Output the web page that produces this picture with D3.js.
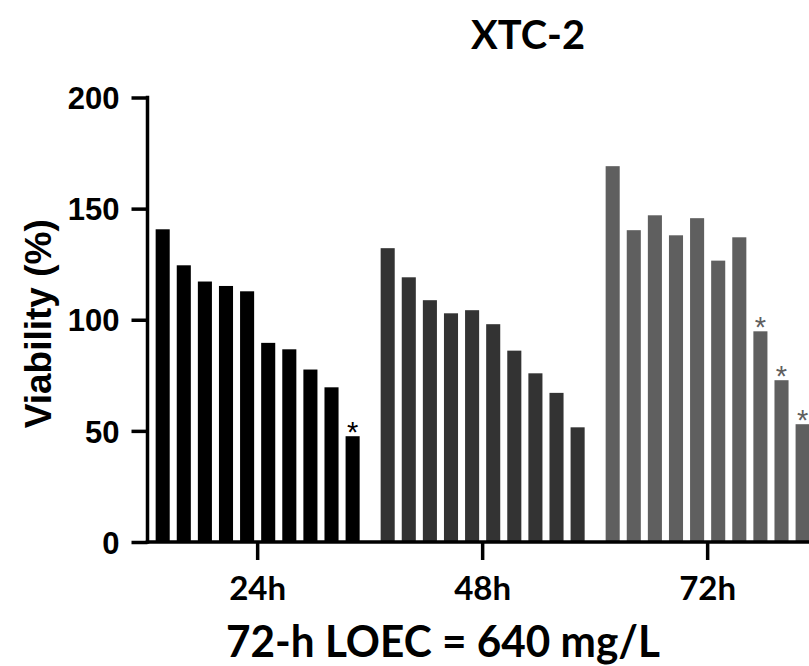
<!DOCTYPE html>
<html>
<head>
<meta charset="utf-8">
<script src="https://cdn.jsdelivr.net/npm/d3@7"></script>
<style>
  html, body { margin: 0; padding: 0; background: #fff; }
  svg { display: block; }
</style>
</head>
<body>
<svg id="chart" width="809" height="666"></svg>
<script>
// Exposure times (groups) and the ten concentration levels within each group
const timePoints = ["24h", "48h", "72h"];
const concLevels = ["C1", "C2", "C3", "C4", "C5", "C6", "C7", "C8", "C9", "C10"];

// Viability (%) per concentration level
const viability24 = [140.7, 124.5, 117.2, 115.2, 112.8, 89.6, 86.7, 77.6, 69.6, 47.6];
const viability48 = [132.2, 119.1, 108.8, 102.9, 104.3, 98.0, 86.1, 75.9, 67.1, 51.6];
const viability72 = [169.1, 140.3, 147.0, 138.0, 145.7, 126.6, 137.1, 94.8, 72.8, 53.0];

// Significance markers (1 = significant vs. control)
const signif24 = [0, 0, 0, 0, 0, 0, 0, 0, 0, 1];
const signif48 = [0, 0, 0, 0, 0, 0, 0, 0, 0, 0];
const signif72 = [0, 0, 0, 0, 0, 0, 0, 1, 1, 1];

const yTicks = [0, 50, 100, 150, 200];
const groupColors = ["#000000", "#333333", "#5f5f5f"];

const titleText = "XTC-2";
const yLabelText = "Viability (%)";
const noteText = "72-h LOEC = 640 mg/L";

const series = [viability24, viability48, viability72];
const signif = [signif24, signif48, signif72];

const rows = [];
timePoints.forEach((t, gi) => {
  concLevels.forEach((c, ci) => {
    rows.push({ time: t, conc: c, value: series[gi][ci], sig: signif[gi][ci], color: groupColors[gi] });
  });
});

const svg = d3.select("#chart");
const width = 809, height = 666;

const axisX = 147.5;
const y = d3.scaleLinear().domain([0, 200]).range([542, 97.5]);

const x0 = d3.scaleBand()
  .domain(timePoints)
  .range([axisX + 0.5, 817.3])
  .paddingInner(0.0933)
  .paddingOuter(0.034);

const x1 = d3.scaleBand()
  .domain(concLevels)
  .range([0, x0.bandwidth()])
  .paddingInner(1 / 3)
  .paddingOuter(0);

const calibriLike = "Lato, 'Open Sans', 'Noto Sans', sans-serif";
const arialLike = "'Liberation Sans', Arial, sans-serif";

// Bars
svg.append("g")
  .selectAll("rect")
  .data(rows)
  .join("rect")
  .attr("x", d => x0(d.time) + x1(d.conc))
  .attr("y", d => y(d.value))
  .attr("width", x1.bandwidth())
  .attr("height", d => y(0) - y(d.value))
  .attr("fill", d => d.color);

// Significance asterisks
svg.append("g")
  .selectAll("text")
  .data(rows.filter(d => d.sig))
  .join("text")
  .attr("x", d => x0(d.time) + x1(d.conc) + x1.bandwidth() / 2)
  .attr("y", d => y(d.value) + 6)
  .attr("text-anchor", "middle")
  .attr("font-family", arialLike)
  .attr("font-size", 29)
  .attr("fill", d => d.color)
  .text("*");

// Y axis
const yAxis = svg.append("g")
  .attr("transform", `translate(${axisX},0)`)
  .call(d3.axisLeft(y).tickValues(yTicks).tickSize(16).tickPadding(12).tickSizeOuter(0));
yAxis.select(".domain").attr("stroke", "#000").attr("stroke-width", 3.5)
  .attr("d", `M0,${y(200) - 1.75}V${y(0) + 1.75}`);
yAxis.selectAll(".tick line").attr("stroke", "#000").attr("stroke-width", 3.5);
yAxis.selectAll(".tick text")
  .attr("font-family", arialLike)
  .attr("font-weight", "bold")
  .attr("font-size", 31)
  .attr("fill", "#000")
  .attr("dy", "0.36em");

// X axis
const xAxis = svg.append("g")
  .attr("transform", `translate(0,${y(0)})`)
  .call(d3.axisBottom(x0).tickSize(18).tickPadding(17).tickSizeOuter(0));
xAxis.select(".domain").attr("stroke", "#000").attr("stroke-width", 3.5)
  .attr("d", `M${axisX - 1.75},0H${width}`);
xAxis.selectAll(".tick line").attr("stroke", "#000").attr("stroke-width", 3.5);
xAxis.selectAll(".tick text")
  .attr("font-family", calibriLike)
  .attr("font-weight", "bold")
  .attr("font-size", 32)
  .attr("fill", "#000")
  .attr("textLength", 57)
  .attr("lengthAdjust", "spacingAndGlyphs");

// Y axis title
svg.append("text")
  .attr("transform", `translate(51,${(y(0) + y(200)) / 2 + 4}) rotate(-90)`)
  .attr("text-anchor", "middle")
  .attr("font-family", arialLike)
  .attr("font-weight", "bold")
  .attr("font-size", 37)
  .attr("fill", "#000")
  .text(yLabelText);

// Chart title
svg.append("text")
  .attr("x", 528)
  .attr("y", 49)
  .attr("text-anchor", "middle")
  .attr("font-family", calibriLike)
  .attr("font-weight", "bold")
  .attr("font-size", 40)
  .attr("fill", "#000")
  .attr("textLength", 114)
  .attr("lengthAdjust", "spacingAndGlyphs")
  .text(titleText);

// Bottom note
svg.append("text")
  .attr("x", 443)
  .attr("y", 657)
  .attr("text-anchor", "middle")
  .attr("font-family", calibriLike)
  .attr("font-weight", "bold")
  .attr("font-size", 43)
  .attr("fill", "#000")
  .attr("textLength", 434)
  .attr("lengthAdjust", "spacingAndGlyphs")
  .text(noteText);
</script>
</body>
</html>
